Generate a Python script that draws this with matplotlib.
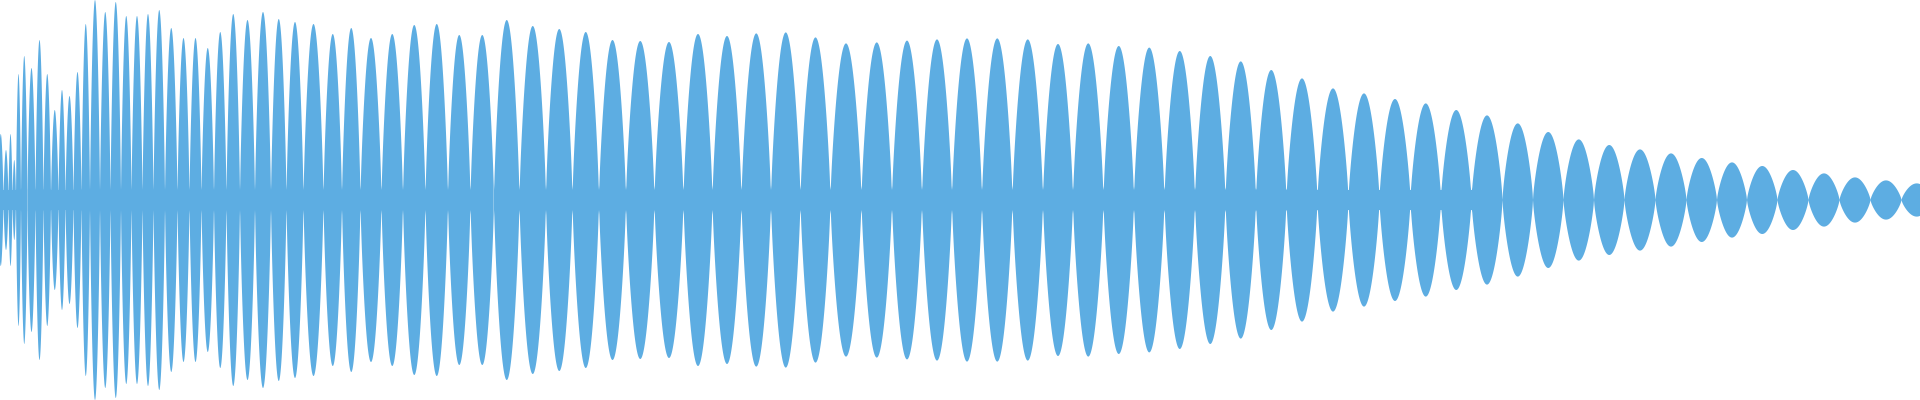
import numpy as np
import matplotlib
matplotlib.use("Agg")
import matplotlib.pyplot as plt

# lobe centres (sample position, px units) and peak amplitudes (fraction of full scale)
centers = [1, 6, 11, 14, 18, 24, 31, 40, 47, 55, 62, 69, 78, 85, 95, 105, 116, 126, 137, 148,
           159, 171, 184, 195, 208, 220, 233, 247, 263, 279, 294, 313, 334, 350, 371, 392, 414,
           437, 459, 482, 506, 533, 559, 586, 612,
           640, 669, 698, 727, 756, 786, 815, 846, 877, 907, 937, 967, 997, 1028, 1058, 1088,
           1119, 1149, 1180, 1210, 1241, 1271,
           1302, 1333, 1364, 1395, 1426, 1456, 1487, 1518, 1548, 1579, 1609, 1640, 1671, 1702,
           1732, 1762, 1793, 1824, 1855, 1886, 1917]
peaks = [.33, .25, .33, .20, .63, .72, .66, .80, .63, .45, .55, .52, .64, .88, 1.0, .94, .99,
         .92, .92, .93, .95, .86, .81, .81, .76, .84, .93, .90, .94, .905, .89, .88, .83, .86,
         .81, .83, .875, .88, .825, .825, .90, .87, .855, .84, .80,
         .795, .79, .83, .82, .833, .838, .813, .783, .788, .797, .803, .808, .808, .803, .78,
         .783, .77, .762, .745, .72, .693, .65,
         .608, .558, .533, .505, .483, .45, .423, .383, .34, .303, .275, .253, .233, .21,
         .188, .17, .15, .133, .113, .098, .083]
floor_level = 0.05
floor_end = 1500

c = np.array(centers, float)
p = np.array(peaks, float)
bounds = np.concatenate([[c[0] - 3], (c[:-1] + c[1:]) / 2, [c[-1] + 15]])

xs, ys = [], []
for i in range(len(c)):
    l, r = bounds[i], bounds[i + 1]
    t = np.linspace(l, r, 80)
    y = p[i] * np.sin(np.pi * (t - l) / (r - l)) ** 0.75
    xs.append(t); ys.append(y)
x = np.concatenate(xs); y = np.concatenate(ys)
y = np.where(x < floor_end, np.maximum(y, floor_level), y)

fig = plt.figure(figsize=(19.2, 4), dpi=100)
ax = fig.add_axes([0, 0, 1, 1])
ax.fill_between(x, -y, y, color="#5DADE2", linewidth=0)
ax.set_xlim(0, 1920)
ax.set_ylim(-1, 1)
ax.axis("off")
fig.savefig("out.png", dpi=100)
